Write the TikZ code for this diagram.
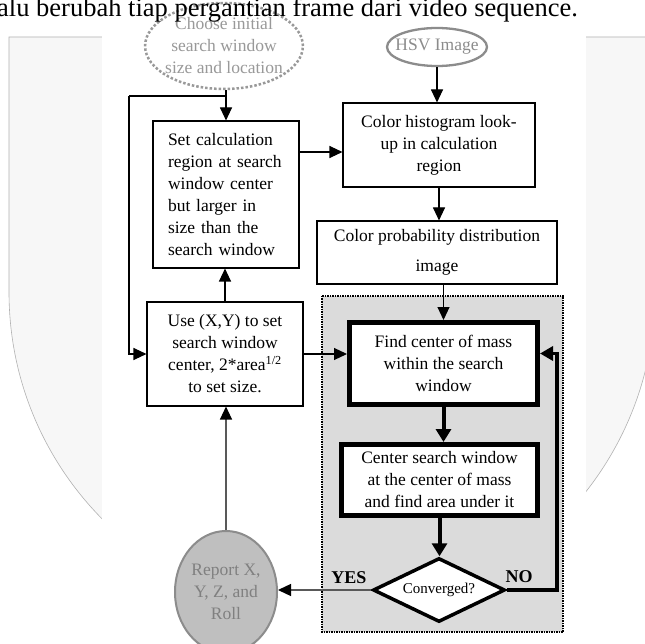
\documentclass[tikz,border=0pt]{standalone}
\usepackage{fontspec}
\setmainfont{Liberation Serif}
\usetikzlibrary{arrows.meta, positioning, shapes.geometric, calc}

\begin{document}
\begin{tikzpicture}[x=1pt, y=-1pt,
    every node/.style={font=\fontsize{17.5}{22}\selectfont},
    box/.style={draw, line width=1.1pt, fill=white, inner sep=0pt, align=center},
    heavybox/.style={draw, line width=5pt, fill=white, inner sep=0pt, align=center},
    arr/.style={line width=1.1pt, -{Triangle[length=13pt,width=12pt]}},
    heavyarr/.style={line width=4pt, -{Triangle[length=13pt,width=15pt]}},
    grayarr/.style={line width=1.3pt, draw=black!65, -{Triangle[length=13pt,width=12pt,black]}}]
  \clip (0,0) rectangle (645,644);
  \fill[white] (0,0) rectangle (645,644);
  % watermark behind the chart
  \filldraw[fill=black!3, draw=black!30, line width=0.6pt] (9,37) -- (9,292)
    arc[start angle=180, end angle=0, radius=323] -- (655,37) -- cycle;
  \fill[white] (102,36) rectangle (586,644);
  % loop zone
  \filldraw[fill=black!14, draw=black, dash pattern=on 1.5pt off 1pt, line width=1.4pt]
    (322,296) rectangle (563,632);

  \node[ellipse, draw=black!40, dash pattern=on 2.5pt off 2pt, line width=2.5pt, text=black!40,
        minimum width=154, minimum height=86, inner xsep=-3pt, inner ysep=0pt, align=center]
        (choose) at (224,46) {Choose initial\\search window\\size and location};
  \node[ellipse, draw=black!45, line width=2.3pt, text=black!45, minimum width=100,
        minimum height=38, inner sep=0pt] (hsv) at (437,47) {\makebox[0pt]{HSV Image}};

  \node[box, minimum width=146, minimum height=147, text width=116, align=left]
        (setcalc) at (226,194.5) {Set calculation\\region at search\\window center\\but larger in\\size than the\\search window};
  \node[box, minimum width=192, minimum height=84] (colhist) at (439,145)
        {Color histogram look-\\up in calculation\\region};
  \node[box, minimum width=240, minimum height=63] (colprob) at (437,252.5)
        {Color probability distribution\\[8pt]image};
  \node[box, minimum width=156, minimum height=104] (use) at (225,354)
        {Use (X,Y) to set\\search window\\center, 2*area\textsuperscript{1/2}\\to set size.};
  \node[heavybox, minimum width=188, minimum height=82] (find) at (443.5,363.5)
        {Find center of mass\\within the search\\window};
  \node[heavybox, minimum width=196, minimum height=71] (recenter) at (439.5,480)
        {Center search window\\at the center of mass\\and find area under it};
  \node[diamond, draw, line width=3.5pt, fill=white, aspect=2, minimum width=132,
        minimum height=64, inner sep=0pt, font=\fontsize{15}{18}\selectfont]
        (conv) at (439,590) {Converged?};
  \node[ellipse, draw=black!45, line width=2pt, fill=black!25, text=black!50,
        minimum width=102, minimum height=122, inner sep=0pt, align=center]
        (report) at (226,592) {Report X,\\Y, Z, and\\Roll};

  \node[font=\bfseries\fontsize{18}{20}\selectfont] (yes) at (349,578) {YES};
  \node[font=\bfseries\fontsize{18}{20}\selectfont] (no) at (519,577) {NO};

  \coordinate (split) at (226,96);
  \coordinate (hin) at ([yshift=-7pt]colhist.west);
  \draw[arr] (split |- choose.south) -- (split |- setcalc.north);
  \draw[line width=1.1pt] (split) -- ++(-97,0) coordinate (corner);
  \draw[arr] (corner) |- (use.west);
  \draw[arr] (hsv.south) -- (hsv.south |- colhist.north);
  \draw[arr] (setcalc.east |- hin) -- (hin);
  \draw[arr] (colhist.south) -- (colhist.south |- colprob.north);
  \draw[arr] (find.north |- colprob.south) -- (find.north);
  \draw[arr] (use.east) -- (use.east -| find.west);
  \draw[arr] (use.north) -- (use.north |- setcalc.south);
  \draw[heavyarr] (find.south) -- (find.south |- recenter.north);
  \draw[heavyarr] (recenter.south) -- (recenter.south |- conv.north);
  \draw[line width=3.5pt, -{Triangle[length=13pt,width=14pt]}] (conv.east) -- ++(50,0)
    |- ([yshift=10pt]find.east);
  \draw[grayarr] (conv.west) -- (conv.west -| report.east);
  \draw[grayarr] (report.north) -- (report.north |- use.south);

  \node[anchor=base west, inner sep=0pt, font=\fontsize{26.5}{30}\selectfont]
        (caption) at (-3,17) {alu berubah tiap pergantian frame dari video sequence.};
\end{tikzpicture}
\end{document}
